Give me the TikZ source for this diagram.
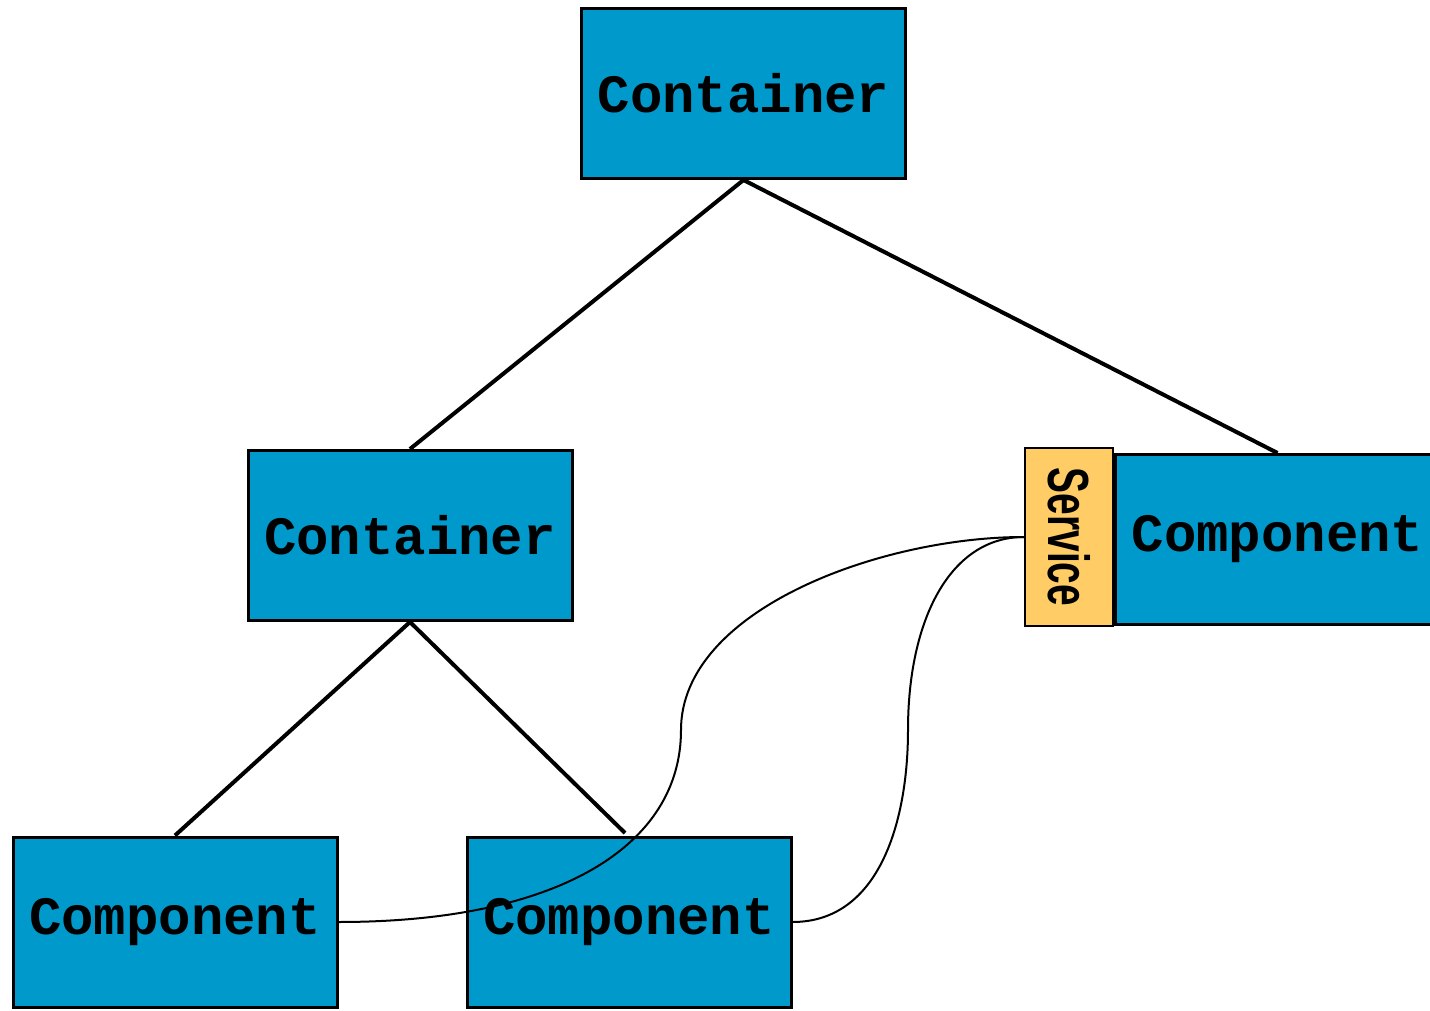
\documentclass[tikz,border=0pt]{standalone}
\usepackage{fontspec}
\usepackage{graphicx}
\usepackage{tikz}
\newfontfamily\boxfont{Liberation Mono}
\newfontfamily\tagfont{Liberation Sans}
\definecolor{boxblue}{HTML}{0099CC}
\definecolor{tagyellow}{HTML}{FFCC66}

\begin{document}
\begin{tikzpicture}[x=1pt, y=-1pt,
  box/.style={draw, line width=3pt, fill=boxblue, minimum width=324pt,
    minimum height=170pt, inner sep=0pt, font=\boxfont\bfseries\fontsize{54}{60}\selectfont},
  tag/.style={draw, line width=2pt, fill=tagyellow, rotate=-90, minimum width=178pt,
    minimum height=88pt, inner sep=0pt, font=\tagfont\bfseries\fontsize{58}{64}\selectfont},
  tree/.style={line width=4pt},
  wire/.style={line width=2pt}]

\useasboundingbox ( 0, 0 ) rectangle ( 1430, 1011 );

% Containers
\node [box] (top) at ( 743.5, 93.5 ) {Container};
\node [box] (mid) at ( 410, 535.5 ) {Container};

% Components
\node [box] (left) at ( 175, 922 ) {Component};
\node [box] (centre) at ( 629, 922 ) {Component};
\node [box] (right) at ( 1277.5, 539.5 ) {Component};

% Service attached to the right component (rotated, so south is its left side)
\node [tag] (svc) at ( 1069, 537 ) {\scalebox{0.67}[1]{Service}};

% Tree
\draw [tree] (top.south) -- (mid.north);
\draw [tree] (top.south) -- (right.north);
\draw [tree] (mid.south) -- (left.north);
\draw [tree] (mid.south) -- ( 625, 833 ) coordinate (centretop);

% Uses of the service
\coordinate (bendA) at ( 681, 730 );
\coordinate (bendB) at ( 908, 730 );
\draw [wire] (left.east) .. controls ( 560, 922 ) and ( 681, 845 ) .. (bendA)
  .. controls ( 681, 610 ) and ( 880, 537 ) .. (svc.south);
\draw [wire] (centre.east) .. controls ( 880, 922 ) and ( 908, 820 ) .. (bendB)
  .. controls ( 908, 620 ) and ( 950, 537 ) .. (svc.south);

\end{tikzpicture}
\end{document}
